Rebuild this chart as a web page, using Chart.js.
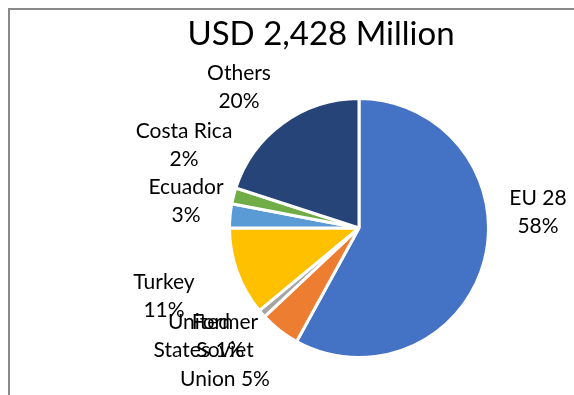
<!DOCTYPE html>
<html>
<head>
<meta charset="utf-8">
<script src="https://cdn.jsdelivr.net/npm/chart.js@4/dist/chart.umd.min.js"></script>
<style>
  body { margin: 0; background: #fff; }
  #wrap { width: 574px; height: 395px; }
</style>
</head>
<body>
<div id="wrap"><canvas id="myChart" width="574" height="395"></canvas></div>
<script>
const title = 'USD 2,428 Million';
const categories = ['EU 28', 'Former Soviet Union', 'United States', 'Turkey', 'Ecuador', 'Costa Rica', 'Others'];
const shares = [58, 5, 1, 11, 3, 2, 20];
const colors = ['#4472C4', '#ED7D31', '#A5A5A5', '#FFC000', '#5B9BD5', '#70AD47', '#264478'];

// how Excel wrapped each label, and where it put it (centre of first line)
const labelLines = [['EU 28'], ['Former', 'Soviet', 'Union'], ['United', 'States'], ['Turkey'], ['Ecuador'], ['Costa Rica'], ['Others']];
const labelPos = [[538, 198], [225, 322], [199, 322], [164, 282], [186, 187], [184, 131], [239, 73]];
const lineH = 28.5;

const ctx = document.getElementById('myChart');
const total = shares.reduce((a, b) => a + b, 0);

const frame = {
    id: 'frame',
    beforeDraw(chart) {
        const c = chart.ctx;
        c.save();
        c.fillStyle = '#fff';
        c.fillRect(0, 0, chart.width, chart.height);
        c.strokeStyle = '#898989';
        c.lineWidth = 2;
        c.strokeRect(9, 9, 800, 800);
        c.restore();
    },
    afterDraw(chart) {
        const c = chart.ctx;
        c.save();
        c.fillStyle = '#000';
        c.textAlign = 'center';
        c.textBaseline = 'middle';
        c.font = '33px Lato';
        c.fillText(title, 321, 34);
        c.font = '21px Lato';
        chart.data.labels.forEach((name, i) => {
            const pct = Math.round(shares[i] / total * 100) + '%';
            const lines = labelLines[i].slice();
            if (lines.length > 1) {
                lines[lines.length - 1] += ' ' + pct;
            } else {
                lines.push(pct);
            }
            lines.forEach((t, j) => c.fillText(t, labelPos[i][0], labelPos[i][1] + j * lineH));
        });
        c.restore();
    }
};

new Chart(ctx, {
    type: 'pie',
    data: {
        labels: categories,
        datasets: [{
            data: shares,
            backgroundColor: colors,
            borderColor: '#fff',
            borderWidth: 3,
            radius: 129.5
        }]
    },
    options: {
        responsive: false,
        animation: false,
        layout: { padding: { left: 144, top: 61, right: 0, bottom: 0 } },
        plugins: {
            legend: { display: false },
            tooltip: { enabled: false },
            title: { display: false }
        }
    },
    plugins: [frame]
});
</script>
</body>
</html>
